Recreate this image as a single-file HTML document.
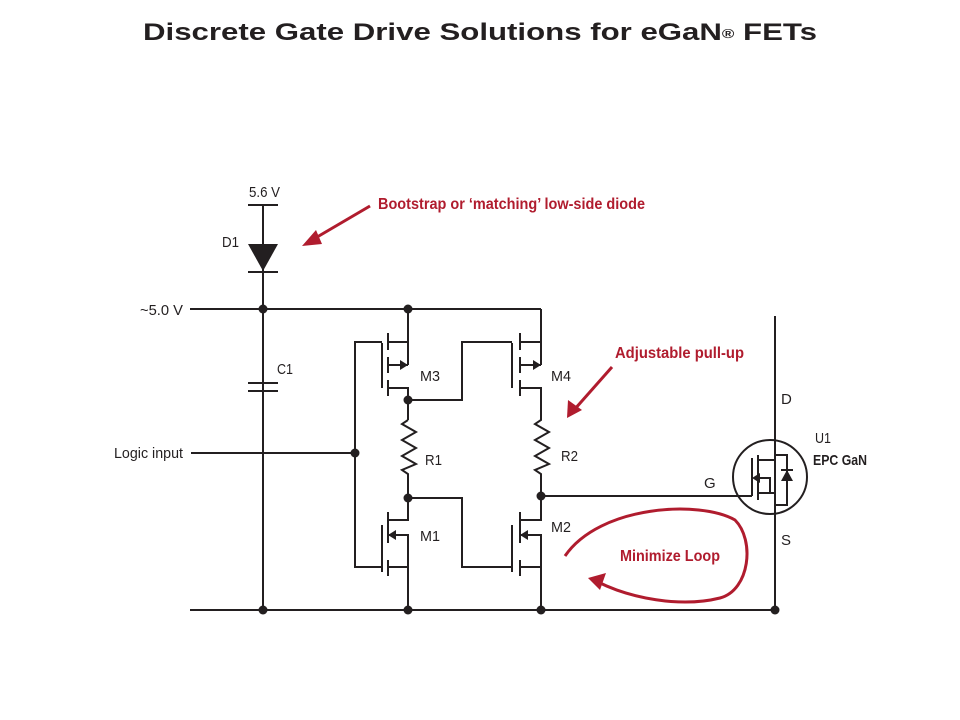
<!DOCTYPE html>
<html><head><meta charset="utf-8"><style>
html,body{margin:0;padding:0;background:#fff;width:960px;height:720px;overflow:hidden}
svg{display:block}
text{font-family:"Liberation Sans Narrow","Liberation Sans",sans-serif;fill:#231f20}
.r{fill:#b01c2e;font-weight:bold}
</style></head><body>
<svg width="960" height="720" viewBox="0 0 960 720" xmlns="http://www.w3.org/2000/svg">
<text x="480" y="40" text-anchor="middle" style="font-family:'Liberation Sans',sans-serif" font-weight="bold" font-size="24" textLength="674" lengthAdjust="spacingAndGlyphs">Discrete Gate Drive Solutions for eGaN<tspan font-size="13" dy="-2">®</tspan><tspan dy="2"> FETs</tspan></text>

<g stroke="#231f20" stroke-width="2" fill="none">
<line x1="248" y1="205" x2="278" y2="205"/>
<line x1="263" y1="205" x2="263" y2="610"/>
<line x1="248" y1="272" x2="278" y2="272"/>
<line x1="248" y1="383" x2="278" y2="383"/>
<line x1="248" y1="391" x2="278" y2="391"/>
<line x1="190" y1="309" x2="541" y2="309"/>
<line x1="190" y1="610" x2="775" y2="610"/>
<line x1="191" y1="453" x2="355" y2="453"/>
<polyline points="382,342 355,342 355,567 382,567"/>
<line x1="382" y1="343" x2="382" y2="388"/>
<line x1="382" y1="525" x2="382" y2="572"/>
<line x1="388" y1="333" x2="388" y2="350"/>
<line x1="388" y1="357" x2="388" y2="373"/>
<line x1="388" y1="380" x2="388" y2="396"/>
<polyline points="388,342 408,342"/>
<line x1="388" y1="365" x2="408" y2="365"/>
<line x1="408" y1="309" x2="408" y2="365"/>
<polyline points="388,388 408,388 408,420"/>
<polyline points="408,420 402,424 416,432 402,440 416,448 402,456 416,464 402,470 408,474 408,520 388,520"/>
<line x1="388" y1="512" x2="388" y2="528"/>
<line x1="388" y1="527" x2="388" y2="543"/>
<line x1="388" y1="560" x2="388" y2="576"/>
<polyline points="388,535 408,535 408,610"/>
<line x1="388" y1="567" x2="408" y2="567"/>
<polyline points="408,400 462,400 462,342 512,342"/>
<polyline points="408,498 462,498 462,567 512,567"/>
<line x1="512" y1="343" x2="512" y2="388"/>
<line x1="512" y1="525" x2="512" y2="572"/>
<line x1="520" y1="333" x2="520" y2="350"/>
<line x1="520" y1="357" x2="520" y2="373"/>
<line x1="520" y1="380" x2="520" y2="396"/>
<line x1="541" y1="309" x2="541" y2="365"/>
<line x1="520" y1="342" x2="541" y2="342"/>
<line x1="520" y1="365" x2="541" y2="365"/>
<polyline points="520,388 541,388 541,420 535,424 549,432 535,440 549,448 535,456 549,464 535,470 541,474 541,520 520,520"/>
<line x1="520" y1="512" x2="520" y2="528"/>
<line x1="520" y1="527" x2="520" y2="543"/>
<line x1="520" y1="560" x2="520" y2="576"/>
<polyline points="520,535 541,535 541,610"/>
<line x1="520" y1="567" x2="541" y2="567"/>
<line x1="541" y1="496" x2="752" y2="496"/>
<line x1="775" y1="316" x2="775" y2="610"/>
<circle cx="770" cy="477" r="37"/>
<line x1="752" y1="458" x2="752" y2="496"/>
<line x1="758" y1="455" x2="758" y2="500"/>
<polyline points="758,460 775,460"/>
<polyline points="758,493 775,493"/>
<polyline points="758,478 770,478 770,493"/>
<polyline points="775,455 787,455 787,505 775,505"/>
<line x1="781" y1="470" x2="793" y2="470"/>
</g>
<g fill="#231f20">
<polygon points="248,244 278,244 263,271"/>
<circle cx="263" cy="309" r="4.5"/><circle cx="408" cy="309" r="4.5"/>
<circle cx="355" cy="453" r="4.5"/>
<circle cx="408" cy="400" r="4.5"/><circle cx="408" cy="498" r="4.5"/>
<circle cx="541" cy="496" r="4.5"/>
<circle cx="263" cy="610" r="4.5"/><circle cx="408" cy="610" r="4.5"/><circle cx="541" cy="610" r="4.5"/><circle cx="775" cy="610" r="4.5"/>
<polygon points="400,360 400,370 408,365"/>
<polygon points="533,360 533,370 541,365"/>
<polygon points="396,530 396,540 388,535"/>
<polygon points="528,530 528,540 520,535"/>
<polygon points="760,473 760,483 752,478"/>
<polygon points="781,481 793,481 787,470"/>
</g>
<g font-size="15">
<text x="249" y="197" textLength="31" lengthAdjust="spacingAndGlyphs">5.6 V</text>
<text x="222" y="247" textLength="17" lengthAdjust="spacingAndGlyphs">D1</text>
<text x="140" y="315" textLength="43" lengthAdjust="spacingAndGlyphs">~5.0 V</text>
<text x="277" y="374" textLength="16" lengthAdjust="spacingAndGlyphs">C1</text>
<text x="114" y="458" textLength="69" lengthAdjust="spacingAndGlyphs">Logic input</text>
<text x="420" y="381" textLength="20" lengthAdjust="spacingAndGlyphs">M3</text>
<text x="551" y="381" textLength="20" lengthAdjust="spacingAndGlyphs">M4</text>
<text x="425" y="465" textLength="17" lengthAdjust="spacingAndGlyphs">R1</text>
<text x="561" y="461" textLength="17" lengthAdjust="spacingAndGlyphs">R2</text>
<text x="420" y="541" textLength="20" lengthAdjust="spacingAndGlyphs">M1</text>
<text x="551" y="532" textLength="20" lengthAdjust="spacingAndGlyphs">M2</text>
<text x="704" y="488">G</text>
<text x="781" y="404">D</text>
<text x="781" y="545">S</text>
<text x="815" y="443" textLength="16" lengthAdjust="spacingAndGlyphs">U1</text>
<text x="813" y="465" font-weight="bold" textLength="54" lengthAdjust="spacingAndGlyphs">EPC GaN</text>
</g>
<g font-size="16">
<text class="r" x="378" y="209" textLength="267" lengthAdjust="spacingAndGlyphs">Bootstrap or ‘matching’ low-side diode</text>
<text class="r" x="615" y="358" textLength="129" lengthAdjust="spacingAndGlyphs">Adjustable pull-up</text>
<text class="r" x="620" y="561" textLength="100" lengthAdjust="spacingAndGlyphs">Minimize Loop</text>
</g>
<g stroke="#b01c2e" stroke-width="3" fill="none">
<line x1="370" y1="206" x2="312" y2="240"/>
<line x1="612" y1="367" x2="574" y2="410"/>
<path d="M565,556 C600,505 700,500 735,520 C755,540 750,590 720,598 C680,608 630,598 598,582"/>
</g>
<g fill="#b01c2e">
<polygon points="302,246 316,230 322,244"/>
<polygon points="567,418 568,400 582,410"/>
<polygon points="588,578 606,573 600,590"/>
</g>
</svg>
</body></html>
